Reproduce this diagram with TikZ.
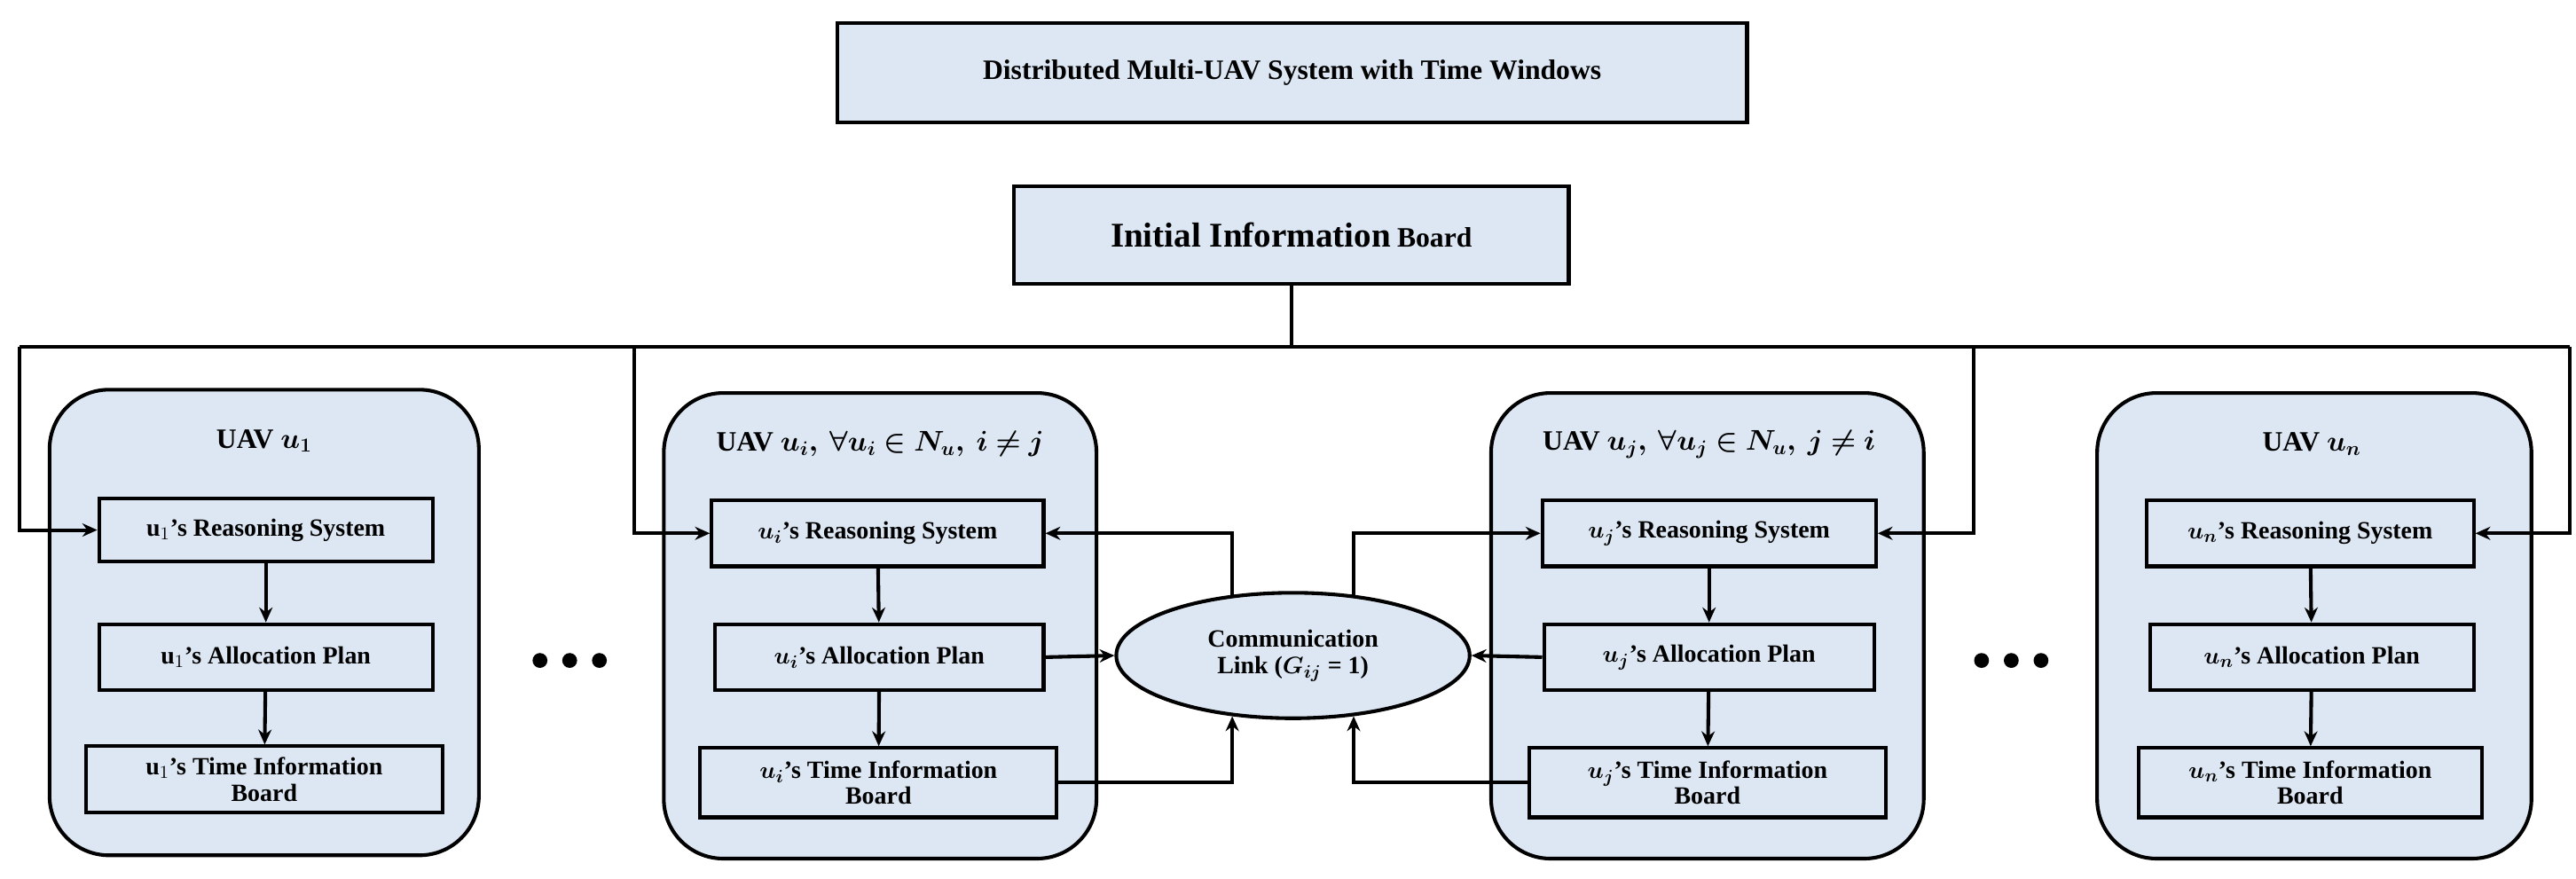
\documentclass[tikz,border=0pt]{standalone}
\usepackage{amsmath,amssymb,bm}
\usepackage{fontspec}
\setmainfont{Liberation Serif}
\usetikzlibrary{shapes.geometric,arrows.meta}
\definecolor{fillb}{HTML}{DCE7F3}
\begin{document}
\begin{tikzpicture}[x=1pt,y=-1pt,
  bx/.style={draw,line width=2.2pt,fill=fillb,inner sep=0pt,font=\bfseries\fontsize{15}{16}\selectfont,align=center},
  uav/.style={draw,line width=2.2pt,fill=fillb,rounded corners=36pt},
  ln/.style={line width=2.2pt},
  dot/.style={circle,fill=black,inner sep=0pt,minimum size=9pt},
  ar/.style={line width=2.2pt,-{Stealth[length=9pt,width=8pt]}}]
\useasboundingbox (0,0) rectangle (1560,532);
% top
\node[bx,minimum width=551pt,minimum height=60pt,font=\bfseries\fontsize{17}{18}\selectfont] (title) at (782.5,44) {Distributed Multi-UAV System with Time Windows};
\node[bx,minimum width=336pt,minimum height=59pt] (init) at (782,142.5) {{\fontsize{21}{22}\selectfont Initial Information} {\fontsize{17}{18}\selectfont Board}};
\coordinate (j) at (782,210);
\coordinate (L1) at (12,210); \coordinate (L2) at (384,210);
\coordinate (R1) at (1195,210); \coordinate (R2) at (1556,210);
% containers
\draw[uav] (30,236) rectangle (290,518);
\draw[uav] (402,238) rectangle (664,520);
\draw[uav] (903,238) rectangle (1165,520);
\draw[uav] (1270,238) rectangle (1533,520);
\node[font=\bfseries\fontsize{17}{18}\selectfont] (t1) at (160,267) {UAV $\bm{u_1}$};
\node[font=\bfseries\fontsize{17}{18}\selectfont] (ti) at (533,269) {UAV $\bm{u_i,\ \forall u_i \in N_u,\ i\neq j}$};
\node[font=\bfseries\fontsize{17}{18}\selectfont] (tj) at (1035,269) {UAV $\bm{u_j,\ \forall u_j \in N_u,\ j\neq i}$};
\node[font=\bfseries\fontsize{17}{18}\selectfont] (tn) at (1400,269) {UAV $\bm{u_n}$};
% u1
\node[bx,minimum width=202pt,minimum height=38pt] (r1) at (161,321) {u$_1$'s Reasoning System};
\node[bx,minimum width=202pt,minimum height=40pt] (a1) at (161,398) {u$_1$'s Allocation Plan};
\node[bx,minimum width=216pt,minimum height=40pt] (b1) at (160,472) {u$_1$'s Time Information\\Board};
% ui
\node[bx,minimum width=201pt,minimum height=40pt] (ri) at (531.5,323) {$\bm{u_i}$'s Reasoning System};
\node[bx,minimum width=199pt,minimum height=40pt] (ai) at (532.5,398) {$\bm{u_i}$'s Allocation Plan};
\node[bx,minimum width=216pt,minimum height=42pt] (bi) at (532,474) {$\bm{u_i}$'s Time Information\\Board};
% uj
\node[bx,minimum width=202pt,minimum height=40pt] (rj) at (1035,323) {$\bm{u_j}$'s Reasoning System};
\node[bx,minimum width=200pt,minimum height=40pt] (aj) at (1035,398) {$\bm{u_j}$'s Allocation Plan};
\node[bx,minimum width=216pt,minimum height=42pt] (bj) at (1034,474) {$\bm{u_j}$'s Time Information\\Board};
% un
\node[bx,minimum width=198pt,minimum height=40pt] (rn) at (1399,323) {$\bm{u_n}$'s Reasoning System};
\node[bx,minimum width=196pt,minimum height=40pt] (an) at (1400,398) {$\bm{u_n}$'s Allocation Plan};
\node[bx,minimum width=208pt,minimum height=42pt] (bn) at (1399,474) {$\bm{u_n}$'s Time Information\\Board};
% ellipse
\node[bx,ellipse,minimum width=214pt,minimum height=76pt] (c) at (783,397) {Communication\\Link ($\bm{G_{ij}}$ = 1)};
% dots
\foreach \x in {327,345,363,1200,1218,1236}{\node[dot] at (\x,400) {};}
% top connections
\draw[ln] (init.south) -- (j);
\draw[ln] (L1) -- (R2);
\draw[ar] (L1) |- (r1.west);
\draw[ar] (L2) |- (ri.west);
\draw[ar] (R1) |- (rj.east);
\draw[ar] (R2) |- (rn.east);
% inner
\foreach \u in {1,i,j,n}{
  \draw[ar] (r\u) -- (a\u);
  \draw[ar] (a\u) -- (b\u);
}
% comm
\draw[ar] (c.135) |- (ri.east);
\draw[ar] (ai.east) -- (c.west);
\draw[ar] (bi.east) -| (c.225);
\draw[ar] (c.45) |- (rj.west);
\draw[ar] (aj.west) -- (c.east);
\draw[ar] (bj.west) -| (c.315);
\end{tikzpicture}
\end{document}
